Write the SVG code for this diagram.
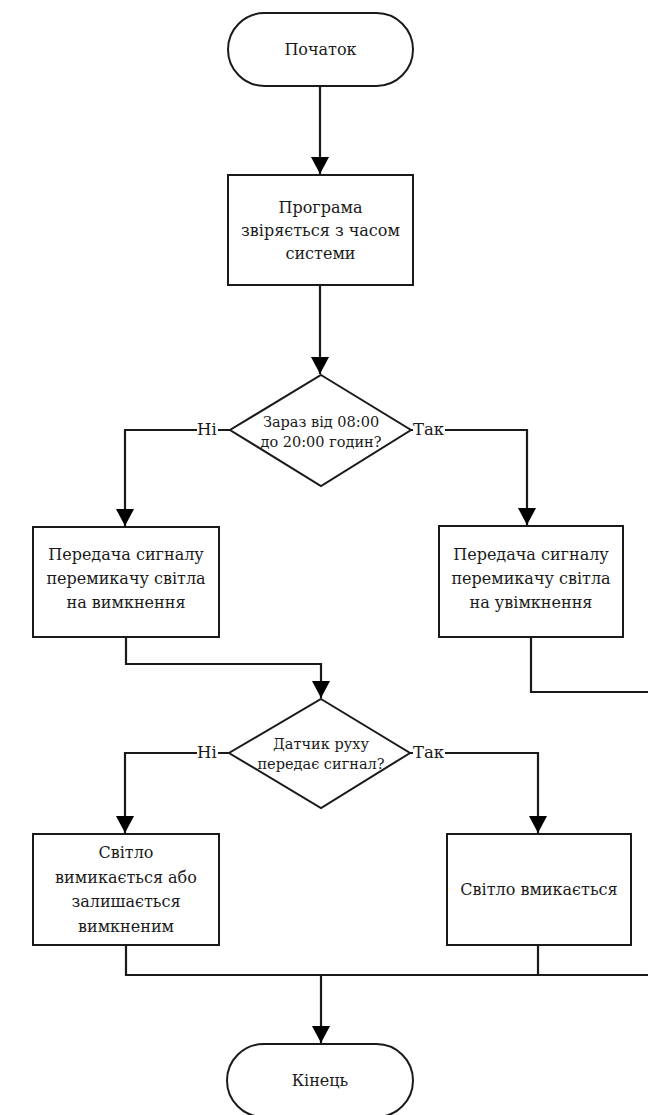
<svg xmlns="http://www.w3.org/2000/svg" width="648" height="1115" viewBox="0 0 648 1115">
  <style>
    .shape { fill: #ffffff; stroke: #1a1a1a; stroke-width: 2; }
    .line { fill: none; stroke: #1a1a1a; stroke-width: 2.2; }
    .txt { font-family: "DejaVu Serif", "Liberation Serif", serif; font-size: 16px; fill: #1a1a1a; text-anchor: middle; }
    .small { font-size: 14.5px; }
    .lbl { font-family: "DejaVu Serif", "Liberation Serif", serif; font-size: 16.5px; fill: #1a1a1a; }
  </style>
  <defs>
    <marker id="arrow" markerUnits="userSpaceOnUse" markerWidth="18" markerHeight="18" refX="17" refY="9" orient="auto">
      <path d="M0,0 L17,9 L0,18 Z" fill="#000000"/>
    </marker>
  </defs>
  <rect width="648" height="1115" fill="#ffffff"/>

  <!-- connectors -->
  <g id="connectors">
    <path class="line" d="M320,86 V174" marker-end="url(#arrow)"/>
    <path class="line" d="M320,285 V374" marker-end="url(#arrow)"/>
    <path class="line" d="M230,430 H125 V526" marker-end="url(#arrow)"/>
    <path class="line" d="M411,430 H527 V525" marker-end="url(#arrow)"/>
    <path class="line" d="M126,637 V664 H321 V698" marker-end="url(#arrow)"/>
    <path class="line" d="M531,637 V692 H648"/>
    <path class="line" d="M229,753 H125 V833" marker-end="url(#arrow)"/>
    <path class="line" d="M410,753 H538 V833" marker-end="url(#arrow)"/>
    <path class="line" d="M126,945 V975 H648"/>
    <path class="line" d="M538,945 V975"/>
    <path class="line" d="M321,975 V1043" marker-end="url(#arrow)"/>
    <!-- branch labels -->
    <rect x="197" y="420" width="21" height="16" fill="#ffffff"/>
    <text class="lbl" x="197" y="435">Ні</text>
    <rect x="413" y="420" width="32" height="16" fill="#ffffff"/>
    <text class="lbl" x="413" y="435">Так</text>
    <rect x="197" y="743" width="21" height="16" fill="#ffffff"/>
    <text class="lbl" x="197" y="758">Ні</text>
    <rect x="413" y="743" width="32" height="16" fill="#ffffff"/>
    <text class="lbl" x="413" y="758">Так</text>
  </g>

  <g id="start">
    <rect class="shape" x="228" y="13" width="185" height="73" rx="36.5" ry="36.5"/>
    <text class="txt" x="320.5" y="55">Початок</text>
  </g>

  <g id="check-time">
    <rect class="shape" x="228" y="175" width="185" height="110"/>
    <text class="txt" x="320.5" y="213">Програма</text>
    <text class="txt" x="320.5" y="236">звіряється з часом</text>
    <text class="txt" x="320.5" y="259">системи</text>
  </g>

  <g id="decision-time">
    <polygon class="shape" points="321,375 411,430 321,486 230,430"/>
    <text class="txt small" x="321" y="427">Зараз від 08:00</text>
    <text class="txt small" x="321" y="447">до 20:00 годин?</text>
  </g>

  <g id="signal-off">
    <rect class="shape" x="33" y="527" width="186" height="110"/>
    <text class="txt" x="126" y="560">Передача сигналу</text>
    <text class="txt" x="126" y="584">перемикачу світла</text>
    <text class="txt" x="126" y="608">на вимкнення</text>
  </g>

  <g id="signal-on">
    <rect class="shape" x="439" y="526" width="184" height="111"/>
    <text class="txt" x="531" y="560">Передача сигналу</text>
    <text class="txt" x="531" y="584">перемикачу світла</text>
    <text class="txt" x="531" y="608">на увімкнення</text>
  </g>

  <g id="decision-motion">
    <polygon class="shape" points="321,699 410,753 321,808 229,753"/>
    <text class="txt small" x="321" y="749">Датчик руху</text>
    <text class="txt small" x="321" y="769">передає сигнал?</text>
  </g>

  <g id="light-off">
    <rect class="shape" x="33" y="834" width="186" height="111"/>
    <text class="txt" x="126" y="858">Світло</text>
    <text class="txt" x="126" y="883">вимикається або</text>
    <text class="txt" x="126" y="907">залишається</text>
    <text class="txt" x="126" y="932">вимкненим</text>
  </g>

  <g id="light-on">
    <rect class="shape" x="447" y="834" width="184" height="111"/>
    <text class="txt" x="539" y="895">Світло вмикається</text>
  </g>

  <g id="end">
    <rect class="shape" x="227" y="1044" width="186" height="73" rx="36.5" ry="36.5"/>
    <text class="txt" x="320" y="1086">Кінець</text>
  </g>
</svg>
